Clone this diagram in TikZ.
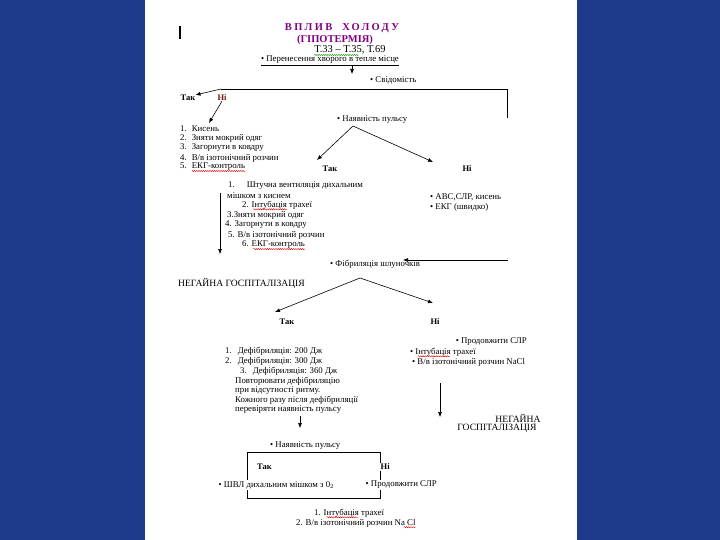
\documentclass[tikz,border=0pt]{standalone}
\usepackage{fontspec}
\setmainfont{Liberation Serif}
\usetikzlibrary{arrows.meta,calc,decorations.pathmorphing}
\definecolor{slideblue}{RGB}{30,58,138}
\definecolor{ttlpurple}{RGB}{128,0,128}
\definecolor{wavred}{RGB}{225,0,0}
\definecolor{wavgreen}{RGB}{0,150,0}
\definecolor{nired}{RGB}{120,20,20}
\begin{document}
\begin{tikzpicture}[x=1pt,y=-1pt,
  txt/.style={inner sep=0pt, anchor=west, font=\fontsize{8.8}{10}\selectfont},
  caps/.style={txt, font=\fontsize{9.6}{11}\selectfont},
  yn/.style={inner sep=0pt, font=\fontsize{8.5}{10}\selectfont\bfseries},
  ttl/.style={inner sep=0pt, font=\fontsize{10.5}{12}\selectfont\bfseries, text=ttlpurple},
  arr/.style={-{Latex[length=5pt,width=4pt]}, line width=0.6pt},
  ln/.style={line width=0.6pt},
  wav/.style={draw=wavred, line width=0.4pt, decorate, decoration={snake, segment length=2.2pt, amplitude=0.6pt}},
  wavg/.style={wav, draw=wavgreen},
  cover/.style={fill=white, inner ysep=1pt, inner xsep=0.5pt},
]
\useasboundingbox (0,0) rectangle (720,540);
\fill[slideblue] (0,0) rectangle (145,540);
\fill[slideblue] (577,0) rectangle (720,540);

% small mark at top left
\coordinate (mk1) at (180,26);
\coordinate (mk2) at (180,39);
\draw[line width=1.6pt] (mk1) -- (mk2);

% title
\node[ttl] (t1) at (342,28) {\addfontfeature{LetterSpace=22}ВПЛИВ\hspace{5pt} ХОЛОДУ};
\node[ttl] (t2) at (335,40) {(ГІПОТЕРМІЯ)};
\node[inner sep=0pt, font=\fontsize{10.5}{12}\selectfont] (t3) at (350,50) {Т.33 – Т.35, Т.69};
\draw[wavg] ($(t3.south west)+(0,0.5)$) -- ($(t3.south west)!0.62!(t3.south east)+(0,0.5)$);
\node[txt, anchor=center] (move) at (330,61) {\underline{• Перенесення хворого в тепле місце}};
\coordinate (mv) at (352,74);
\draw[arr] (move.south -| mv) -- (mv);
\node[txt] (consc) at (370,80) {• Свідомість};

% consciousness branch
\coordinate (b1) at (221,89);
\coordinate (b2) at (507,89);
\coordinate (b3) at (507,118);
\draw[ln] (b1) -- (b2) -- (b3);
\node[yn] (tak1) at (188,98) {Так};
\node[yn, text=nired] (ni1) at (222,98) {Ні};
\draw[arr] (b1) -- (tak1.north east);
\coordinate (l1) at (209,123);
\draw[arr] (ni1.south) -- (l1);

\node[txt] (L1) at (180,129) {1.\hspace{5pt}Кисень};
\node[txt] (L2) at (180,138) {2.\hspace{5pt}Зняти мокрий одяг};
\node[txt] (L3) at (180,148) {3.\hspace{5pt}Загорнути в ковдру};
\node[txt] (L4) at (180,158) {4.\hspace{5pt}В/в ізотонічний розчин};
\node[txt] (L5) at (180,167) {5.\hspace{5pt}ЕКГ-контроль};
\draw[wav] ($(L5.south west)!0.18!(L5.south east)$) -- (L5.south east);

% pulse
\node[txt] (pulse1) at (337,120) {• Наявність пульсу};
\coordinate (p1) at (353,126);
\coordinate (e1) at (317,160);
\coordinate (e2) at (433,162);
\draw[arr] (p1) -- (e1);
\draw[arr] (p1) -- (e2);
\node[yn] (tak2) at (330,169) {Так};
\node[yn] (ni2) at (467,169) {Ні};

\node[txt] (K1) at (228,186) {1.\hspace{12pt}Штучна вентиляція дихальним};
\node[txt] (K1b) at (227,196) {мішком з киснем};
\node[txt] (K2) at (242,205) {2. Інтубація трахеї};
\draw[wav] ($(K2.south west)!0.16!(K2.south east)$) -- ($(K2.south west)!0.64!(K2.south east)$);
\node[txt] (K3) at (227,215) {3.Зняти мокрий одяг};
\node[txt] (K4) at (225,225) {4. Загорнути в ковдру};
\node[txt] (K5) at (228,235) {5. В/в ізотонічний розчин};
\node[txt] (K6) at (242,245) {6. ЕКГ-контроль};
\draw[wav] ($(K6.south west)!0.18!(K6.south east)$) -- (K6.south east);
\coordinate (la1) at (220,193);
\coordinate (la2) at (220,254);
\draw[arr] (la1) -- (la2);

\node[txt] (R1) at (430,197) {• АВС,СЛР, кисень};
\node[txt] (R2) at (430,207) {• ЕКГ (швидко)};

% fibrillation
\node[txt] (fib) at (330,264) {• Фібриляція шлуночків};
\coordinate (fa) at (508,260);
\coordinate (fb) at (403,260);
\draw[arr] (fa) -- (fb);
\node[caps] (hosp1) at (178,283) {НЕГАЙНА ГОСПІТАЛІЗАЦІЯ};

\coordinate (p2) at (360,278);
\coordinate (e3) at (275,312);
\coordinate (e4) at (433,303);
\draw[arr] (p2) -- (e3);
\draw[arr] (p2) -- (e4);
\node[yn] (tak3) at (287,322) {Так};
\node[yn] (ni3) at (435,322) {Ні};

\node[txt, anchor=east] (S1) at (527,342) {• Продовжити СЛР};
\node[txt] (S2) at (410,352) {• Інтубація трахеї};
\draw[wav] ($(S2.south west)!0.12!(S2.south east)$) -- ($(S2.south west)!0.6!(S2.south east)$);
\node[txt] (S3) at (412,362) {• В/в ізотонічний розчин NaCl};

\node[txt] (D1) at (225,351) {1.\hspace{6pt}Дефібриляція: 200 Дж};
\node[txt] (D2) at (225,361) {2.\hspace{6pt}Дефібриляція: 300 Дж};
\node[txt] (D3) at (240,371) {3.\hspace{6pt}Дефібриляція: 360 Дж};
\node[txt] (D4) at (235,381) {Повторювати дефібриляцію};
\node[txt] (D5) at (235,391) {при відсутності ритму.};
\node[txt] (D6) at (235,400) {Кожного разу після дефібриляції};
\node[txt] (D7) at (235,410) {перевіряти наявність пульсу};

\coordinate (ra1) at (440,383);
\coordinate (ra2) at (440,417);
\draw[arr] (ra1) -- (ra2);
\coordinate (lb1) at (300,416);
\coordinate (lb2) at (300,428);
\draw[arr] (lb1) -- (lb2);

\node[caps, anchor=center] (hosp2a) at (518,418) {НЕГАЙНА};
\node[caps, anchor=center] (hosp2b) at (497,428) {ГОСПІТАЛІЗАЦІЯ};

% last check
\node[txt] (pulse2) at (270,446) {• Наявність пульсу};
\coordinate (bx1) at (247,452);
\coordinate (bx2) at (380,498);
\draw[ln] (bx1) rectangle (bx2);
\node[yn, anchor=west] (tak4) at (257,467) {Так};
\node[yn, anchor=west, cover] (ni4) at (380,467) {Ні};
\node[txt, cover] (shvl) at (218,485) {• ШВЛ дихальним мішком з 0\textsubscript{2}};
\node[txt, cover] (cont) at (365,485) {• Продовжити СЛР};

\node[txt] (B1) at (314,513) {1. Інтубація трахеї};
\draw[wav] ($(B1.south west)!0.18!(B1.south east)$) -- ($(B1.south west)!0.62!(B1.south east)$);
\node[txt] (B2) at (296,523) {2. В/в ізотонічний розчин Na Cl};
\draw[wav] ($(B2.south west)!0.9!(B2.south east)$) -- (B2.south east);
\end{tikzpicture}
\end{document}
